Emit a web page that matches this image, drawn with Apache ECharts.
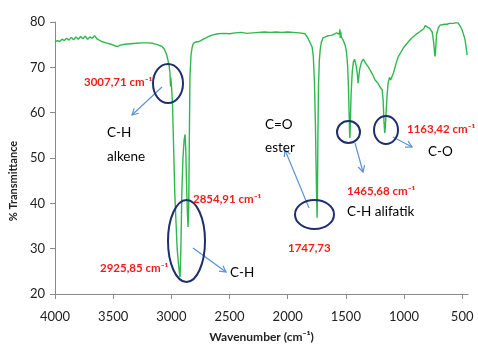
<!DOCTYPE html>
<html>
<head>
<meta charset="utf-8">
<script src="https://cdn.jsdelivr.net/npm/echarts@6/dist/echarts.min.js"></script>
<style>
  html, body { margin: 0; padding: 0; background: #fff; }
  #main { width: 478px; height: 345px; }
</style>
</head>
<body>
<div id="main"></div>
<script>
// wavenumber (cm-1) and % transmittance
const wavenumbers = [
  4000, 3980, 3960, 3940, 3920, 3900, 3880, 3860, 3840, 3820, 3800, 3780, 3760, 3740, 3720, 3700, 3680, 3660, 3640, 3620,
  3600, 3560, 3520, 3480, 3460, 3440, 3400, 3350, 3300, 3250, 3200, 3160, 3120, 3080, 3060, 3040, 3020, 3012, 3009, 3007,
  3005, 3000, 2990, 2980, 2970, 2960, 2950, 2940, 2930, 2925, 2918, 2910, 2900, 2890, 2882, 2876, 2870, 2862, 2856, 2850,
  2845, 2840, 2830, 2820, 2810, 2790, 2760, 2740, 2720, 2700, 2680, 2650, 2600, 2550, 2500, 2450, 2400, 2350, 2300, 2250,
  2200, 2150, 2100, 2050, 2000, 1950, 1900, 1850, 1830, 1810, 1790, 1780, 1770, 1762, 1755, 1750, 1747, 1744, 1740, 1735,
  1728, 1720, 1710, 1696, 1680, 1660, 1640, 1620, 1600, 1580, 1565, 1557, 1552, 1548, 1544, 1540, 1530, 1520, 1506, 1495,
  1485, 1478, 1472, 1468, 1465, 1462, 1455, 1445, 1435, 1425, 1420, 1410, 1400, 1395, 1388, 1382, 1377, 1365, 1350, 1343,
  1330, 1310, 1291, 1270, 1249, 1235, 1223, 1212, 1200, 1188, 1180, 1172, 1166, 1163, 1160, 1152, 1145, 1137, 1125, 1115,
  1102, 1090, 1070, 1050, 1034, 1000, 973, 940, 900, 862, 830, 818, 801, 780, 758, 745, 737, 733, 728, 720,
  715, 705, 690, 670, 650, 629, 610, 578, 555, 535, 515, 500, 485, 475, 465, 457
];
const transmittance = [
  75.6, 75.9, 75.7, 76.2, 75.9, 76.4, 76.0, 76.6, 76.1, 76.7, 76.2, 76.8, 76.3, 76.9, 76.2, 76.7, 76.4, 77.0, 76.3, 76.0,
  75.7, 75.4, 75.1, 74.7, 74.6, 74.9, 75.1, 75.2, 75.3, 75.4, 75.4, 75.3, 75.0, 74.6, 74.0, 72.8, 70.5, 68.8, 68.4, 65.8,
  67.8, 66.5, 62.0, 52.0, 42.0, 36.0, 30.0, 27.0, 24.5, 23.7, 30.0, 42.0, 50.0, 54.0, 55.2, 52.0, 45.0, 38.0, 34.8, 40.0,
  55.0, 68.0, 73.0, 74.5, 75.3, 75.6, 75.7, 76.0, 76.3, 76.5, 76.8, 77.1, 77.4, 77.5, 77.4, 77.6, 77.7, 77.5, 77.6, 77.7,
  77.8, 77.7, 77.8, 77.7, 77.8, 77.7, 77.6, 77.4, 76.6, 75.6, 74.5, 72.5, 67.0, 58.0, 47.0, 40.0, 36.8, 42.0, 55.0, 66.0,
  71.5, 74.0, 75.6, 76.5, 76.6, 76.9, 77.0, 77.1, 77.3, 77.6, 78.0, 77.3, 78.4, 76.5, 77.9, 76.8, 76.3, 75.8, 74.9, 73.5,
  70.5, 66.0, 60.0, 55.5, 54.4, 57.0, 64.0, 69.0, 71.2, 71.8, 71.6, 70.2, 68.2, 66.5, 68.0, 69.5, 70.0, 71.2, 71.8, 71.6,
  70.9, 70.2, 69.4, 68.4, 67.2, 66.8, 66.5, 65.9, 65.6, 65.0, 63.0, 58.0, 55.5, 55.1, 57.0, 61.0, 64.0, 66.5, 67.8, 67.2,
  67.6, 68.8, 70.7, 72.3, 73.0, 74.5, 75.3, 76.3, 77.2, 77.9, 78.5, 79.2, 79.0, 78.6, 77.8, 75.5, 73.0, 72.4, 74.0, 77.3,
  77.6, 78.7, 79.3, 79.4, 79.5, 79.5, 79.7, 79.7, 79.8, 79.8, 79.0, 78.2, 77.0, 76.0, 74.2, 72.7
];
const xTicks = [4000, 3500, 3000, 2500, 2000, 1500, 1000, 500];

const font = 'Lato, "Open Sans", sans-serif';
const red = '#f01c1c';
const navy = '#1f2f6e';
const blue = '#5b93d3';

const chart = echarts.init(document.getElementById('main'));

// helpers for the hand-drawn style notes
function ring (cx, cy, rx, ry) {
  return { type: 'ellipse', shape: { cx: cx, cy: cy, rx: rx, ry: ry }, style: { fill: 'none', stroke: navy, lineWidth: 2 }, z: 10 };
}
function arrow (x1, y1, x2, y2) {
  const a = Math.atan2(y2 - y1, x2 - x1);
  const h = 7;
  return {
    type: 'group', z: 10,
    children: [
      { type: 'line', shape: { x1: x1, y1: y1, x2: x2, y2: y2 }, style: { stroke: blue, lineWidth: 1.2 } },
      { type: 'polyline', shape: { points: [
        [x2 - h * Math.cos(a - 0.5), y2 - h * Math.sin(a - 0.5)], [x2, y2],
        [x2 - h * Math.cos(a + 0.5), y2 - h * Math.sin(a + 0.5)]] }, style: { stroke: blue, lineWidth: 1.2, fill: 'none' } }
    ]
  };
}
function redLabel (x, y, text) {
  return { type: 'text', x: x, y: y, z: 11, style: { text: text, fill: red, font: 'bold 11.5px ' + font, verticalAlign: 'middle' } };
}
function note (x, y, text) {
  return { type: 'text', x: x, y: y, z: 11, style: { text: text, fill: '#000', font: '13.5px ' + font, verticalAlign: 'middle' } };
}

const option = {
  animation: false,
  grid: { left: 55, right: 10, top: 22, bottom: 51, outerBoundsMode: 'none' },
  xAxis: {
    type: 'value',
    inverse: true,
    min: 450,
    max: 4000,
    name: 'Wavenumber (cm⁻¹)',
    nameLocation: 'middle',
    nameGap: 37,
    nameTextStyle: { fontFamily: font, fontWeight: 'bold', fontSize: 12, color: '#222' },
    axisLine: { lineStyle: { color: '#8a8a8a' } },
    axisTick: { customValues: xTicks, length: 5, lineStyle: { color: '#8a8a8a' } },
    axisLabel: { customValues: xTicks, formatter: v => String(v), fontFamily: font, fontSize: 13, color: '#222', margin: 16 },
    splitLine: { show: false }
  },
  yAxis: {
    type: 'value',
    min: 20,
    max: 80,
    interval: 10,
    axisLine: { show: true, lineStyle: { color: '#8a8a8a' } },
    axisTick: { show: true, length: 5, lineStyle: { color: '#8a8a8a' } },
    axisLabel: { fontFamily: font, fontSize: 13, color: '#222', margin: 10 },
    splitLine: { show: false }
  },
  series: [{
    type: 'line',
    data: wavenumbers.map((w, i) => [w, transmittance[i]]),
    showSymbol: false,
    lineStyle: { color: '#2fb84e', width: 1.4 }
  }],
  graphic: [
    { type: 'text', x: 13, y: 181, rotation: Math.PI / 2, z: 11,
      style: { text: '% Transmittance', fill: '#222', font: 'bold 11px ' + font, align: 'center', verticalAlign: 'middle' } },
    // 3007 C-H alkene
    ring(168, 83.5, 15, 19.5),
    arrow(162, 87, 132, 115),
    redLabel(84, 82, '3007,71 cm⁻¹'),
    note(107, 133, 'C-H'),
    note(107, 157, 'alkene'),
    // 2925 / 2854 C-H
    ring(186.5, 241, 18.5, 41),
    arrow(193, 248, 226, 272),
    redLabel(193, 199, '2854,91 cm⁻¹'),
    redLabel(100, 268, '2925,85 cm⁻¹'),
    note(230, 273, 'C-H'),
    // 1747 C=O ester
    ring(314.5, 214.5, 19.5, 14.5),
    arrow(309, 208, 285, 150),
    note(265, 125, 'C=O'),
    note(265, 148, 'ester'),
    redLabel(288, 248, '1747,73'),
    // 1465 C-H alifatik
    ring(348.5, 132, 11.5, 11),
    arrow(355, 143, 363, 172),
    redLabel(347, 191, '1465,68 cm⁻¹'),
    note(347, 212, 'C-H alifatik'),
    // 1163 C-O
    ring(386, 130, 12, 14),
    arrow(393, 137, 412, 147),
    redLabel(407, 129, '1163,42 cm⁻¹'),
    note(428, 152, 'C-O')
  ]
};

option && chart.setOption(option);
</script>
</body>
</html>
